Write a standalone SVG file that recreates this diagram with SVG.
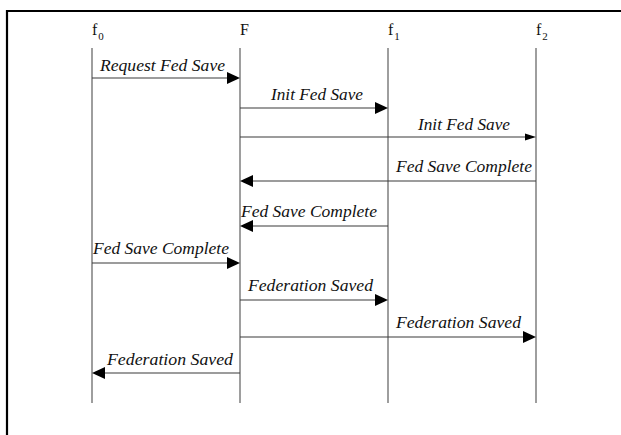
<svg xmlns="http://www.w3.org/2000/svg" width="621" height="435" viewBox="0 0 621 435">
  <style>
    .frame { fill: none; stroke: #000; stroke-width: 2.2; }
    .life { stroke: #6a6a6a; stroke-width: 1.3; }
    .msg { stroke: #3a3a3a; stroke-width: 1.2; fill: none; }
    .head { fill: #000; }
  </style>

  <!-- page frame: top and left edges -->
  <path class="frame" d="M7 435 V11 H621"/>

  <!-- participants -->
  <g font-family="Liberation Serif, DejaVu Serif, serif" font-size="16" fill="#111">
    <g id="f0">
      <line class="life" x1="92" y1="48" x2="92" y2="403"/>
      <text x="92" y="35">f<tspan font-size="11" dx="1" dy="5">0</tspan></text>
    </g>
    <g id="F">
      <line class="life" x1="240" y1="48" x2="240" y2="403"/>
      <text x="240" y="35">F</text>
    </g>
    <g id="f1">
      <line class="life" x1="388" y1="48" x2="388" y2="403"/>
      <text x="388" y="35">f<tspan font-size="11" dx="1" dy="5">1</tspan></text>
    </g>
    <g id="f2">
      <line class="life" x1="536" y1="48" x2="536" y2="403"/>
      <text x="536" y="35">f<tspan font-size="11" dx="1" dy="5">2</tspan></text>
    </g>
  </g>

  <!-- messages -->
  <g id="connectors" font-family="Liberation Serif, DejaVu Serif, serif" font-style="italic" font-size="17" fill="#111">
    <!-- f0 -> F -->
    <line class="msg" x1="92" y1="78" x2="228" y2="78"/>
    <polygon class="head" points="240,78 227,72 227,84"/>
    <text x="100" y="71" textLength="125" lengthAdjust="spacingAndGlyphs">Request Fed Save</text>

    <!-- F -> f1 -->
    <line class="msg" x1="240" y1="108" x2="376" y2="108"/>
    <polygon class="head" points="388,108 375,102 375,114"/>
    <text x="271" y="100" textLength="92" lengthAdjust="spacingAndGlyphs">Init Fed Save</text>

    <!-- F -> f2 -->
    <line class="msg" x1="240" y1="137" x2="526" y2="137"/>
    <polygon class="head" points="536,137 525,133.5 525,140.5"/>
    <text x="418" y="130" textLength="92" lengthAdjust="spacingAndGlyphs">Init Fed Save</text>

    <!-- f2 -> F -->
    <line class="msg" x1="536" y1="181" x2="252" y2="181"/>
    <polygon class="head" points="240,181 253,175 253,187"/>
    <text x="396" y="172" textLength="136" lengthAdjust="spacingAndGlyphs">Fed Save Complete</text>

    <!-- f1 -> F -->
    <line class="msg" x1="388" y1="226" x2="252" y2="226"/>
    <polygon class="head" points="240,226 253,220 253,232"/>
    <text x="241" y="217" textLength="136" lengthAdjust="spacingAndGlyphs">Fed Save Complete</text>

    <!-- f0 -> F -->
    <line class="msg" x1="92" y1="263" x2="228" y2="263"/>
    <polygon class="head" points="240,263 227,257 227,269"/>
    <text x="93" y="254" textLength="136" lengthAdjust="spacingAndGlyphs">Fed Save Complete</text>

    <!-- F -> f1 -->
    <line class="msg" x1="240" y1="300" x2="376" y2="300"/>
    <polygon class="head" points="388,300 375,294 375,306"/>
    <text x="248" y="291" textLength="125" lengthAdjust="spacingAndGlyphs">Federation Saved</text>

    <!-- F -> f2 -->
    <line class="msg" x1="240" y1="337" x2="524" y2="337"/>
    <polygon class="head" points="536,337 523,331 523,343"/>
    <text x="396" y="328" textLength="125" lengthAdjust="spacingAndGlyphs">Federation Saved</text>

    <!-- F -> f0 -->
    <line class="msg" x1="240" y1="373" x2="104" y2="373"/>
    <polygon class="head" points="92,373 105,367 105,379"/>
    <text x="107" y="365" textLength="126" lengthAdjust="spacingAndGlyphs">Federation Saved</text>
  </g>
</svg>
